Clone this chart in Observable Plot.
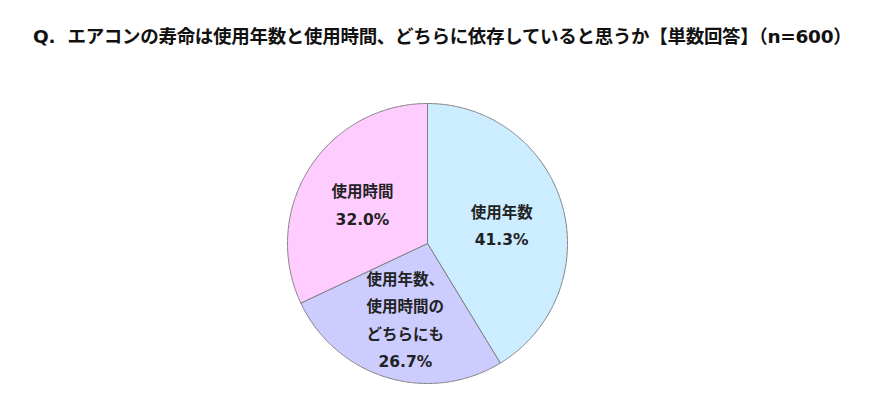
<!DOCTYPE html>
<html><head><meta charset="utf-8">
<script src="https://cdn.jsdelivr.net/npm/d3@7"></script>
<script src="https://cdn.jsdelivr.net/npm/@observablehq/plot@0.6"></script>
<style>
body{margin:0;background:#fff;font-family:"DejaVu Sans","Noto Sans CJK JP",sans-serif;}
#title{position:absolute;left:33px;top:24px;font-size:18.5px;font-weight:bold;color:#111;white-space:nowrap;letter-spacing:-0.3px;line-height:1.2;}
#title .cjk{font-family:"Noto Sans CJK JP";}
#chart{position:absolute;left:0;top:72px;}
</style></head><body>
<div id="title">Q.&nbsp; <span class="cjk">エアコンの寿命は使用年数と使用時間、どちらに依存していると思うか【単数回答】（</span>n=600<span class="cjk">）</span></div>
<div id="chart"></div>
<script>
const categories = ["使用年数", "使用年数、\n使用時間の\nどちらにも", "使用時間"];
const values = [41.3, 26.7, 32.0];
const colors = ["#CCECFF", "#CCCCFF", "#FFCCFF"];

const pie = d3.pie().sort(null).value(d => d.v)(categories.map((c, i) => ({c, v: values[i], color: colors[i]})));
const poly = [];
const labels = [];
pie.forEach(s => {
  const a0 = s.startAngle, a1 = s.endAngle;
  poly.push({c: s.data.c, x: 0, y: 0, color: s.data.color});
  const n = Math.ceil((a1 - a0) / (Math.PI / 360));
  for (let k = 0; k <= n; k++) {
    const a = a0 + (a1 - a0) * k / n;
    poly.push({c: s.data.c, x: Math.sin(a), y: Math.cos(a), color: s.data.color});
  }
  poly.push({c: s.data.c, x: 0, y: 0, color: s.data.color});
  const m = (a0 + a1) / 2, r = 0.55;
  labels.push({text: s.data.c + "\n" + s.data.v.toFixed(1) + "%", x: r * Math.sin(m), y: r * Math.cos(m)});
});

const chart = Plot.plot({
  width: 872, height: 327, margin: 0,
  x: {domain: [-1, 1], range: [287, 567], axis: null},
  y: {domain: [-1, 1], range: [311, 31], axis: null},
  marks: [
    Plot.line(poly, {x: "x", y: "y", z: "c", fill: "color", stroke: "#808080", strokeWidth: 1, curve: "linear"}),
    Plot.text(labels, {x: "x", y: "y", text: "text", fontSize: 15.5, fontWeight: "bold", fill: "#222", lineHeight: 1.78, fontFamily: "'DejaVu Sans','Noto Sans CJK JP'"})
  ]
});
document.getElementById("chart").appendChild(chart);
</script>
</body></html>
